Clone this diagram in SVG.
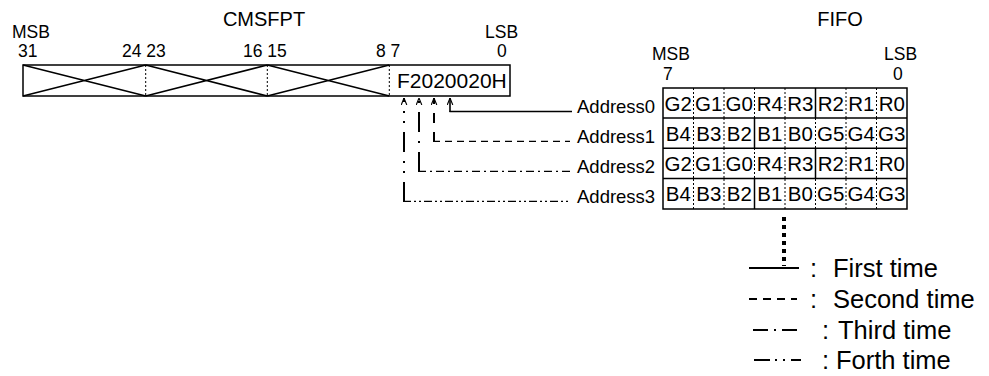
<svg xmlns="http://www.w3.org/2000/svg" width="989" height="376" viewBox="0 0 989 376">
<style>
text{font-family:"Liberation Sans",Arial,sans-serif;fill:#000}
.t18{font-size:17.5px}
.t20{font-size:20px}
.adr{font-size:18.5px}
.cell{font-size:20.5px;text-anchor:middle}
.leg{font-size:25.5px}
.box{fill:#fff;stroke:#000;stroke-width:1.5}
.dot{stroke:#000;stroke-width:1;stroke-dasharray:2 2}
.ln{stroke:#000;fill:none}
</style>
<defs>
<marker id="ah" viewBox="0 0 10 10" refX="10" refY="5" markerUnits="userSpaceOnUse" markerWidth="7" markerHeight="7" orient="auto-start-reverse">
<path d="M0,1 L10,5 L0,9" fill="none" stroke="#000" stroke-width="1.6"/>
</marker>
</defs>
<rect width="989" height="376" fill="#fff"/>

<g id="cmsfpt">
<text class="t20" x="264" y="26" text-anchor="middle">CMSFPT</text>
<text class="t18" x="12" y="38">MSB</text>
<text class="t18" x="18" y="57">31</text>
<text class="t18" x="122" y="57">24 23</text>
<text class="t18" x="243" y="57">16 15</text>
<text class="t18" x="376" y="57">8 7</text>
<text class="t18" x="485" y="38">LSB</text>
<text class="t18" x="497" y="57">0</text>
<rect class="box" x="23" y="65" width="487" height="31"/>
<path class="ln" stroke-width="1.5" d="M23,65 L145.7,96 M23,96 L145.7,65 M145.7,65 L267.3,96 M145.7,96 L267.3,65 M267.3,65 L389.3,96 M267.3,96 L389.3,65"/>
<line class="dot" x1="145.7" y1="65" x2="145.7" y2="96"/>
<line class="dot" x1="267.3" y1="65" x2="267.3" y2="96"/>
<line class="dot" x1="389.3" y1="65" x2="389.3" y2="96"/>
<text x="397" y="88" style="font-size:21px">F2020020H</text>
</g>

<g id="fifo">
<text class="t20" x="840" y="26" text-anchor="middle">FIFO</text>
<text class="t18" x="652" y="60">MSB</text>
<text class="t18" x="663" y="80">7</text>
<text class="t18" x="884" y="60">LSB</text>
<text class="t18" x="893" y="80">0</text>
<rect class="box" x="663" y="88" width="244" height="121"/>
<line class="ln" stroke-width="1.5" x1="663" y1="118" x2="907" y2="118"/>
<line class="ln" stroke-width="1.5" x1="663" y1="148.3" x2="907" y2="148.3"/>
<line class="ln" stroke-width="1.5" x1="663" y1="178.6" x2="907" y2="178.6"/>
<g id="row0">
<path class="dot" d="M693.5,88V118M724,88V118M754.5,88V118M785,88V118M846,88V118M876.5,88V118"/>
<line class="ln" stroke-width="1.5" x1="815.5" y1="88" x2="815.5" y2="118"/>
<text class="cell" y="111"><tspan x="678.3">G2</tspan><tspan x="708.8">G1</tspan><tspan x="739.3">G0</tspan><tspan x="769.8">R4</tspan><tspan x="800.3">R3</tspan><tspan x="830.8">R2</tspan><tspan x="861.3">R1</tspan><tspan x="891.8">R0</tspan></text>
</g>
<g id="row1">
<path class="dot" d="M693.5,118V148M724,118V148M785,118V148M815.5,118V148M846,118V148M876.5,118V148"/>
<line class="ln" stroke-width="1.5" x1="754.5" y1="118" x2="754.5" y2="148.3"/>
<text class="cell" y="141"><tspan x="678.3">B4</tspan><tspan x="708.8">B3</tspan><tspan x="739.3">B2</tspan><tspan x="769.8">B1</tspan><tspan x="800.3">B0</tspan><tspan x="830.8">G5</tspan><tspan x="861.3">G4</tspan><tspan x="891.8">G3</tspan></text>
</g>
<g id="row2">
<path class="dot" d="M693.5,148V178M724,148V178M754.5,148V178M785,148V178M846,148V178M876.5,148V178"/>
<line class="ln" stroke-width="1.5" x1="815.5" y1="148.3" x2="815.5" y2="178.6"/>
<text class="cell" y="171"><tspan x="678.3">G2</tspan><tspan x="708.8">G1</tspan><tspan x="739.3">G0</tspan><tspan x="769.8">R4</tspan><tspan x="800.3">R3</tspan><tspan x="830.8">R2</tspan><tspan x="861.3">R1</tspan><tspan x="891.8">R0</tspan></text>
</g>
<g id="row3">
<path class="dot" d="M693.5,179V209M724,179V209M785,179V209M815.5,179V209M846,179V209M876.5,179V209"/>
<line class="ln" stroke-width="1.5" x1="754.5" y1="178.6" x2="754.5" y2="209"/>
<text class="cell" y="201"><tspan x="678.3">B4</tspan><tspan x="708.8">B3</tspan><tspan x="739.3">B2</tspan><tspan x="769.8">B1</tspan><tspan x="800.3">B0</tspan><tspan x="830.8">G5</tspan><tspan x="861.3">G4</tspan><tspan x="891.8">G3</tspan></text>
</g>
</g>

<g id="labels">
<text class="adr" x="577" y="113">Address0</text>
<text class="adr" x="577" y="143">Address1</text>
<text class="adr" x="577" y="173">Address2</text>
<text class="adr" x="577" y="203">Address3</text>
</g>

<g id="connectors">
<line class="ln" stroke-width="1.6" x1="450" y1="98" x2="450" y2="112" marker-start="url(#ah)"/>
<line class="ln" stroke-width="1.3" x1="449.5" y1="111.5" x2="572" y2="111.5"/>
<line class="ln" stroke-width="2" x1="434" y1="98" x2="434" y2="142" stroke-dasharray="10 9" stroke-dashoffset="4" marker-start="url(#ah)"/>
<line class="ln" stroke-width="1.2" x1="433" y1="141.3" x2="570" y2="141.3" stroke-dasharray="7 5"/>
<line class="ln" stroke-width="2" x1="419" y1="98" x2="419" y2="172" stroke-dasharray="20 9 2 9" stroke-dashoffset="26" marker-start="url(#ah)"/>
<line class="ln" stroke-width="1.2" x1="418" y1="171.3" x2="570" y2="171.3" stroke-dasharray="8 4 2 4"/>
<line class="ln" stroke-width="2" x1="404" y1="98" x2="404" y2="202" stroke-dasharray="20 9 2 8 2 9" stroke-dashoffset="16" marker-start="url(#ah)"/>
<line class="ln" stroke-width="1.2" x1="403" y1="201.3" x2="570" y2="201.3" stroke-dasharray="8 3 2 3 2 3"/>
</g>

<g id="legend">
<line class="ln" stroke-width="4" x1="784" y1="217" x2="784" y2="266" stroke-dasharray="4 4"/>
<line class="ln" stroke-width="2" x1="749" y1="268" x2="799" y2="268"/>
<line class="ln" stroke-width="2" x1="749" y1="299" x2="797" y2="299" stroke-dasharray="8 6"/>
<line class="ln" stroke-width="2" x1="753" y1="330" x2="798" y2="330" stroke-dasharray="15 6 2 6"/>
<line class="ln" stroke-width="2" x1="754" y1="360" x2="801" y2="360" stroke-dasharray="16 5 2 6 2 6"/>
<text class="leg" x="810" y="277">:</text>
<text class="leg" x="833" y="277">First time</text>
<text class="leg" x="810" y="308">:</text>
<text class="leg" x="833" y="308">Second time</text>
<text class="leg" x="822" y="339">:</text>
<text class="leg" x="838" y="339">Third time</text>
<text class="leg" x="822" y="369">:</text>
<text class="leg" x="836" y="369">Forth time</text>
</g>
</svg>
